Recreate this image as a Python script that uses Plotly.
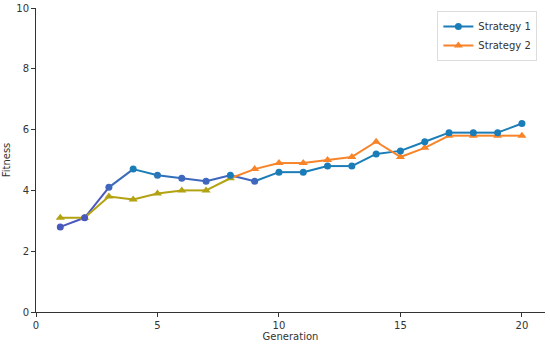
import plotly.graph_objects as go

generation = list(range(1, 21))
strategy1 = [2.8, 3.1, 4.1, 4.7, 4.5, 4.4, 4.3, 4.5, 4.3, 4.6, 4.6, 4.8, 4.8, 5.2, 5.3, 5.6, 5.9, 5.9, 5.9, 6.2]
strategy2 = [3.1, 3.1, 3.8, 3.7, 3.9, 4.0, 4.0, 4.4, 4.7, 4.9, 4.9, 5.0, 5.1, 5.6, 5.1, 5.4, 5.8, 5.8, 5.8, 5.8]
x_ticks = [0, 5, 10, 15, 20]
y_ticks = [0, 2, 4, 6, 8, 10]

TEAL = "#1b7db8"
ORANGE = "#f8842a"
PURPLE = "#4a57bd"
BLUEP = "#3f67bd"
OLIVE = "#b3a212"

# per-point styling (colour shift seen in reference)
s1_pt_colors = [PURPLE, PURPLE, BLUEP, TEAL, "#2a76b9", BLUEP, BLUEP, TEAL, BLUEP] + [TEAL] * 11
s1_seg_colors = [PURPLE, PURPLE, "#3a6cbb", TEAL, "#2f70ba", BLUEP, BLUEP, BLUEP] + [TEAL] * 11
s2_pt_colors = [OLIVE] * 8 + [ORANGE] * 12
s2_seg_colors = [OLIVE] * 7 + [ORANGE] * 12

fig = go.Figure()

def add_segments(ys, seg_colors):
    for i, c in enumerate(seg_colors):
        fig.add_trace(go.Scatter(x=generation[i:i + 2], y=ys[i:i + 2], mode="lines",
                                 line=dict(color=c, width=2), showlegend=False, hoverinfo="skip"))

add_segments(strategy1, s1_seg_colors)
add_segments(strategy2, s2_seg_colors)

fig.add_trace(go.Scatter(x=generation, y=strategy2, mode="markers", showlegend=False,
                         marker=dict(symbol="triangle-up", size=8, color=s2_pt_colors)))
fig.add_trace(go.Scatter(x=generation, y=strategy1, mode="markers", showlegend=False,
                         marker=dict(symbol="circle", size=7, color=s1_pt_colors)))

# legend entries
fig.add_trace(go.Scatter(x=[None], y=[None], mode="lines+markers", name="Strategy 1",
                         line=dict(color=TEAL, width=2), marker=dict(symbol="circle", size=7, color=TEAL)))
fig.add_trace(go.Scatter(x=[None], y=[None], mode="lines+markers", name="Strategy 2",
                         line=dict(color=ORANGE, width=2), marker=dict(symbol="triangle-up", size=8, color=ORANGE)))

axis_common = dict(showgrid=False, zeroline=False, showline=True, linecolor="#333333", linewidth=1,
                   ticks="outside", ticklen=4, tickcolor="#333333", tickfont=dict(size=10, color="#333333"),
                   title_font=dict(size=10, color="#333333"), automargin=False)

fig.update_layout(
    width=550, height=344,
    margin=dict(l=36, r=5, t=8, b=32),
    paper_bgcolor="white", plot_bgcolor="white",
    font=dict(family="DejaVu Sans", size=10, color="#333333"),
    xaxis=dict(range=[0, 20.95], tickvals=x_ticks, title=dict(text="Generation", standoff=0), **axis_common),
    yaxis=dict(range=[0, 10], tickvals=y_ticks, title=dict(text="Fitness", standoff=3), **axis_common),
    legend=dict(x=0.985, y=0.99, xanchor="right", yanchor="top", bgcolor="rgba(255,255,255,0.9)",
                bordercolor="#dddddd", borderwidth=1, font=dict(size=10, color="#333333"),
                itemwidth=30, tracegroupgap=0),
)

fig.write_html("out.html", config={"displayModeBar": False},
               post_script="document.body.style.margin='0';")
